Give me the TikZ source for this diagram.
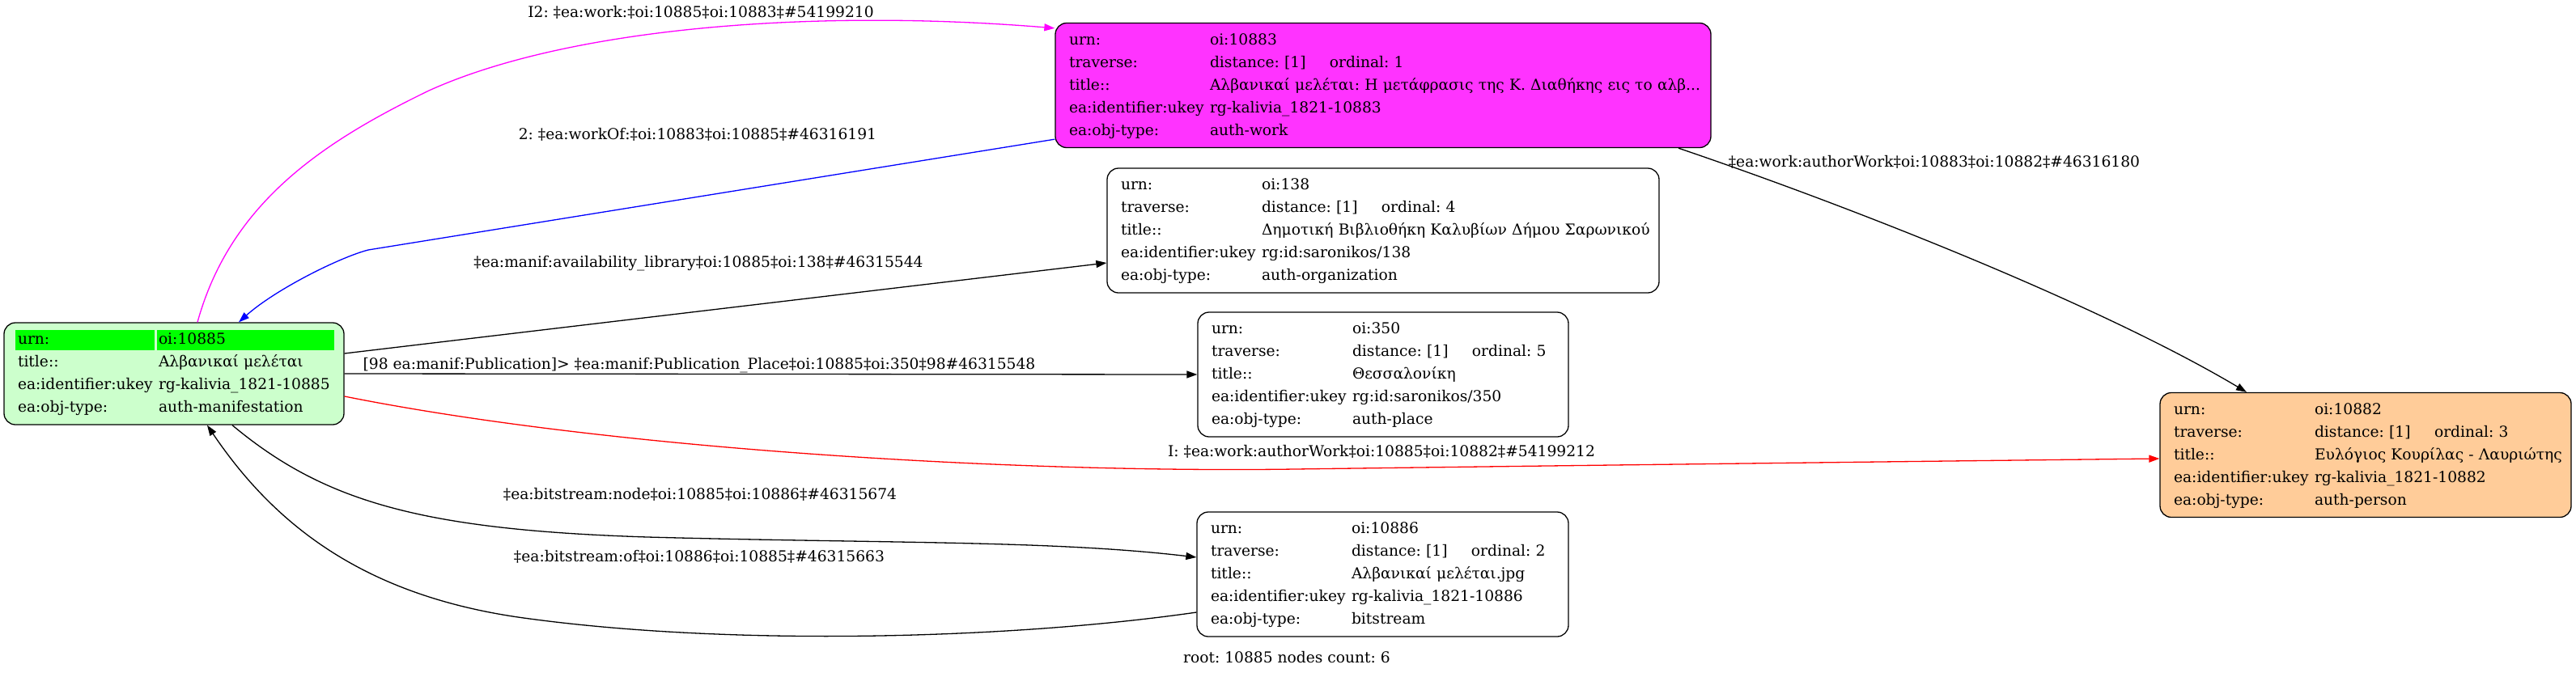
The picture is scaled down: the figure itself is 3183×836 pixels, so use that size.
\documentclass[tikz,border=0pt]{standalone}
\usepackage{fontspec}
\setmainfont{DejaVu Serif}
\usepackage{tikz}
\usetikzlibrary{arrows.meta,calc}
\frenchspacing

\definecolor{workfill}{HTML}{FF33FF}
\definecolor{rootfill}{HTML}{CCFFCC}
\definecolor{rootcell}{HTML}{00FF00}
\definecolor{personfill}{HTML}{FFCC99}
\definecolor{workline}{HTML}{FF00FF}
\definecolor{workofline}{HTML}{0000FF}
\definecolor{authorline}{HTML}{FF0000}

\tikzset{
  rec/.style={draw, line width=1.3pt, rounded corners=14pt, inner xsep=17pt, inner ysep=7pt, align=left},
  elabel/.style={inner sep=0pt},
  link/.style={line width=1.3pt, -{Triangle[length=13pt,width=9pt]}},
}

\begin{document}
\begin{tikzpicture}[x=1pt, y=-1pt, font=\fontsize{18.67}{28}\selectfont]
  \useasboundingbox (0,0) rectangle (3183,836);
  % root manifestation
  \node[rec, fill=rootfill, text width=386pt, path picture={
      \fill[rootcell, sharp corners] ($(path picture bounding box.north west)+(14,9)$) rectangle ++(172,25);
      \fill[rootcell, sharp corners] ($(path picture bounding box.north west)+(189,9)$) rectangle ++(219,25);
    }] (manif) at (215,462) {\begin{tabular}{@{}p{174pt}@{}l@{}}
    urn: & oi:10885\\
    title:: & Αλβανικαί μελέται\\
    ea:identifier:ukey & rg-kalivia\_1821-10885\\
    ea:obj-type: & auth-manifestation
  \end{tabular}};
  % work
  \node[rec, fill=workfill, text width=776pt] (work) at (1709,105.5) {\begin{tabular}{@{}p{174pt}@{}l@{}}
    urn: & oi:10883\\
    traverse: & \makebox[148pt][l]{distance: [1]}ordinal: 1\\
    title:: & Αλβανικαί μελέται: Η μετάφρασις της Κ. Διαθήκης εις το αλβ...\\
    ea:identifier:ukey & rg-kalivia\_1821-10883\\
    ea:obj-type: & auth-work
  \end{tabular}};
  % library
  \node[rec, text width=648pt] (library) at (1709,285) {\begin{tabular}{@{}p{174pt}@{}l@{}}
    urn: & oi:138\\
    traverse: & \makebox[148pt][l]{distance: [1]}ordinal: 4\\
    title:: & Δημοτική Βιβλιοθήκη Καλυβίων Δήμου Σαρωνικού\\
    ea:identifier:ukey & rg:id:saronikos/138\\
    ea:obj-type: & auth-organization
  \end{tabular}};
  % place
  \node[rec, text width=424pt] (place) at (1709,463) {\begin{tabular}{@{}p{174pt}@{}l@{}}
    urn: & oi:350\\
    traverse: & \makebox[148pt][l]{distance: [1]}ordinal: 5\\
    title:: & Θεσσαλονίκη\\
    ea:identifier:ukey & rg:id:saronikos/350\\
    ea:obj-type: & auth-place
  \end{tabular}};
  % bitstream
  \node[rec, text width=425pt] (bitstream) at (1708.5,710) {\begin{tabular}{@{}p{174pt}@{}l@{}}
    urn: & oi:10886\\
    traverse: & \makebox[148pt][l]{distance: [1]}ordinal: 2\\
    title:: & Αλβανικαί μελέται.jpg\\
    ea:identifier:ukey & rg-kalivia\_1821-10886\\
    ea:obj-type: & bitstream
  \end{tabular}};
  % person
  \node[rec, fill=personfill, text width=474pt] (person) at (2923,562.5) {\begin{tabular}{@{}p{174pt}@{}l@{}}
    urn: & oi:10882\\
    traverse: & \makebox[148pt][l]{distance: [1]}ordinal: 3\\
    title:: & Ευλόγιος Κουρίλας - Λαυριώτης\\
    ea:identifier:ukey & rg-kalivia\_1821-10882\\
    ea:obj-type: & auth-person
  \end{tabular}};

  % edges
  \draw[link, workline] ([xshift=29pt]manif.north) .. controls (285,250) and (400,175) .. (530,112)
    .. controls (700,35) and (1000,10) .. ([yshift=-7pt]work.north west);
  \draw[link, workofline] ([yshift=11pt]work.south west) -- (455,309)
    .. controls (420,318) and (340,358) .. ([xshift=80pt]manif.north);
  \draw[link] ([yshift=25pt]manif.east) -- ([yshift=-40pt]library.west);
  \draw[link] (manif.east) -- (place.west);
  \draw[link, authorline] ([yshift=-28pt]manif.east) .. controls (750,555) and (1250,585) .. (1600,580)
    .. controls (1900,576) and (2400,570) .. ([yshift=-4.5pt]person.west);
  \draw[link] ([xshift=72pt]manif.south) .. controls (400,620) and (520,655) .. (800,664)
    .. controls (1100,672) and (1300,668) .. ([yshift=21pt]bitstream.west);
  \draw[link] ([yshift=-47pt]bitstream.west) .. controls (1250,790) and (900,800) .. (640,763)
    .. controls (450,735) and (340,650) .. ([xshift=41pt]manif.south);
  \draw[link] ([xshift=365pt]work.south) .. controls (2300,260) and (2600,380) .. ([xshift=-147pt]person.north);

  % edge labels
  \node[elabel] (lwork) at (866,15) {I2: ‡ea:work:‡oi:10885‡oi:10883‡\#54199210};
  \node[elabel] (lworkof) at (862,166) {2: ‡ea:workOf:‡oi:10883‡oi:10885‡\#46316191};
  \node[elabel] (llibrary) at (863,326) {‡ea:manif:availability\_library‡oi:10885‡oi:138‡\#46315544};
  \node[elabel] (lplace) at (864,452) {[98 ea:manif:Publication]> ‡ea:manif:Publication\_Place‡oi:10885‡oi:350‡98\#46315548};
  \node[elabel] (lauthor) at (1707,558) {I: ‡ea:work:authorWork‡oi:10885‡oi:10882‡\#54199212};
  \node[elabel] (lnode) at (865,611) {‡ea:bitstream:node‡oi:10885‡oi:10886‡\#46315674};
  \node[elabel] (lof) at (864,688) {‡ea:bitstream:of‡oi:10886‡oi:10885‡\#46315663};
  \node[elabel] (lworkauthor) at (2390,200) {‡ea:work:authorWork‡oi:10883‡oi:10882‡\#46316180};
  \node (rootlabel) at (1590,813) {root: 10885 nodes count: 6};
\end{tikzpicture}
\end{document}
